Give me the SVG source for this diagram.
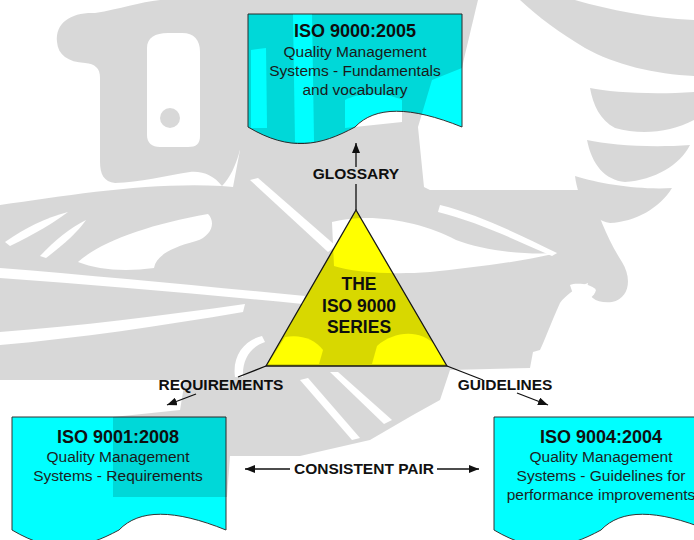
<svg xmlns="http://www.w3.org/2000/svg" width="694" height="540" viewBox="0 0 694 540">
  <style>
    .doc { fill: #00FFFF; stroke: #333; stroke-width: 1; }
    .tri { fill: #FFFF00; stroke: #1a1a1a; stroke-width: 1.3; stroke-linejoin: miter; }
    .ttl { font: bold 18px "Liberation Sans", Arial, sans-serif; fill: #111; text-anchor: middle; }
    .body { font: 15.5px "Liberation Sans", Arial, sans-serif; fill: #1e1e1e; text-anchor: middle; }
    .tri-t { font: bold 17.5px "Liberation Sans", Arial, sans-serif; fill: #111; text-anchor: middle; }
    .lbl { font: bold 15.5px "Liberation Sans", Arial, sans-serif; fill: #111; text-anchor: middle; }
    .conn { stroke: #111; stroke-width: 1.3; fill: none; }
  </style>
  <defs>
    <!-- document shape with a wavy lower edge, 214 wide -->
    <path id="docShape" d="M0,0 H214 V113 C162,92 127,92 107,113 C72,132 42,138 0,113 Z"/>
    <marker id="arrow" viewBox="0 0 10 8" refX="10" refY="4" markerWidth="10" markerHeight="8" markerUnits="userSpaceOnUse" orient="auto-start-reverse">
      <path d="M0,0 L10,4 L0,8 Z" fill="#111"/>
    </marker>
    <!-- light gaps inside the background emblem -->
    <mask id="emblemCut" maskUnits="userSpaceOnUse" x="0" y="0" width="694" height="540">
      <rect width="694" height="540" fill="#fff"/>
      <g fill="#000">
        <path d="M5,242 C25,228 45,218 68,212 C55,222 35,234 10,246 Z"/>
        <path d="M40,256 C55,240 70,228 86,220 C78,232 62,246 46,258 Z"/>
        <path d="M78,262 C100,242 150,224 208,214 C216,222 212,236 196,241 C170,248 156,256 154,268 C125,272 98,270 78,262 Z"/>
        <path d="M0,268 C100,276 200,286 305,296 L303,304 C200,294 100,285 0,278 Z"/>
        <path d="M0,332 C80,326 160,316 245,304 L243,312 C160,326 80,338 0,345 Z"/>
        <path d="M250,180 L258,178 L336,246 L328,252 Z"/>
        <path d="M332,222 C372,212 422,222 456,240 C482,250 520,255 557,253 C520,262 470,268 430,272 C390,275 352,272 334,266 Z"/>
        <path d="M440,205 C480,215 520,235 557,253 L552,256 C515,240 478,222 438,212 Z"/>
        <path d="M570,285 C575,283 590,283 596,290 C594,298 585,302 575,300 Z"/>
        <path d="M268,364 L285,337 C300,334 315,339 323,350 L319,364 Z"/>
        <path d="M372,364 L377,346 C394,331 420,329 435,345 L445,364 Z"/>
        <path d="M235,377 C232,355 245,340 262,336 L265,342 C250,347 242,360 243,377 Z"/>
        <path d="M330,372 L338,372 L392,420 L384,424 Z"/>
        <path d="M300,380 L308,378 L360,438 L352,440 Z"/>
        <!-- lighter streaks across the top document -->
        <path d="M251,50 L266,48 L267,128 L251,128 Z"/>
        <path d="M293,14 L312,14 L314,142 L295,142 Z"/>
        <path d="M345,100 C360,92 385,92 402,100 L402,122 L345,128 Z"/>
      </g>
    </mask>
  </defs>

  <rect width="694" height="540" fill="#fff"/>

  <!-- connectors -->
  <g id="connectors">
    <line class="conn" x1="356" y1="210" x2="356" y2="184"/>
    <line class="conn" x1="356" y1="167" x2="356" y2="143" marker-end="url(#arrow)"/>
    <line class="conn" x1="266" y1="366" x2="238" y2="377"/>
    <line class="conn" x1="196" y1="394" x2="167" y2="405" marker-end="url(#arrow)"/>
    <line class="conn" x1="447" y1="366" x2="483" y2="380"/>
    <line class="conn" x1="517" y1="393" x2="548" y2="405" marker-end="url(#arrow)"/>
    <line class="conn" x1="290" y1="469" x2="245" y2="469" marker-end="url(#arrow)"/>
    <line class="conn" x1="437" y1="469" x2="479" y2="469" marker-end="url(#arrow)"/>
    <text class="lbl" x="356" y="179">GLOSSARY</text>
    <text class="lbl" x="221" y="390">REQUIREMENTS</text>
    <text class="lbl" x="505" y="390">GUIDELINES</text>
    <text class="lbl" x="364" y="474">CONSISTENT PAIR</text>
  </g>

  <g id="iso9000">
    <use href="#docShape" class="doc" transform="translate(248,14)"/>
    <text class="ttl" x="355" y="37">ISO 9000:2005</text>
    <text class="body" x="355" y="57">Quality Management</text>
    <text class="body" x="355" y="76">Systems - Fundamentals</text>
    <text class="body" x="355" y="95">and vocabulary</text>
  </g>

  <g id="series">
    <polygon class="tri" points="356,210 266,366 447,366"/>
    <text class="tri-t" x="359" y="290">THE</text>
    <text class="tri-t" x="359" y="312">ISO 9000</text>
    <text class="tri-t" x="359" y="333">SERIES</text>
  </g>

  <g id="iso9001">
    <use href="#docShape" class="doc" transform="translate(12,417)"/>
    <text class="ttl" x="118" y="443">ISO 9001:2008</text>
    <text class="body" x="118" y="462">Quality Management</text>
    <text class="body" x="118" y="481">Systems - Requirements</text>
  </g>

  <g id="iso9004">
    <use href="#docShape" class="doc" transform="translate(494,417)"/>
    <text class="ttl" x="601" y="443">ISO 9004:2004</text>
    <text class="body" x="601" y="462">Quality Management</text>
    <text class="body" x="601" y="481">Systems - Guidelines for</text>
    <text class="body" x="601" y="500">performance improvements</text>
  </g>

  <!-- faint background emblem, laid over the page -->
  <g id="emblem" fill="#000" opacity="0.15" mask="url(#emblemCut)">
    <path fill-rule="evenodd" d="M57,42 C55,22 72,12 95,13 C120,9 140,2 160,0 L240,0 L240,150 C236,165 230,178 222,186 C214,176 204,171 190,172 C165,176 140,182 115,183 C104,182 100,174 100,162 L100,78 C100,68 95,64 85,63 C68,62 58,55 57,42 Z M147,48 C147,38 155,33 168,33 L182,33 C194,33 200,40 200,52 L200,136 C200,144 196,147 188,147 L160,147 C152,147 147,143 147,135 Z"/>
    <circle cx="170" cy="118" r="10"/>
    <path d="M240,0 L478,0 C472,25 466,50 462,68 L432,80 L418,127 L424,187 L233,187 L240,150 Z"/>
    <path d="M520,0 L575,0 C610,10 650,18 694,20 L694,76 C655,74 615,65 585,48 C560,33 538,17 520,0 Z"/>
    <path d="M590,88 C610,92 650,95 694,92 L694,120 C670,133 640,135 615,128 C600,120 593,105 590,88 Z"/>
    <path d="M587,140 C610,145 650,148 690,145 C680,165 655,180 625,182 C605,180 592,165 587,140 Z"/>
    <path d="M575,176 C600,184 640,190 672,188 C660,208 635,222 610,223 C590,220 578,200 575,176 Z"/>
    <path d="M0,205 C70,195 150,182 222,186 L233,187 L424,187 L430,190 L590,190 C598,215 608,240 622,262 C632,278 630,298 612,302 C595,304 585,295 588,283 C575,288 565,296 560,303 C550,325 545,340 540,350 L533,352 L530,368 L450,370 L440,400 L413,415 L370,440 L300,456 L230,456 L227,497 L113,497 L113,417 L180,410 L185,380 L0,380 Z"/>
  </g>
</svg>
